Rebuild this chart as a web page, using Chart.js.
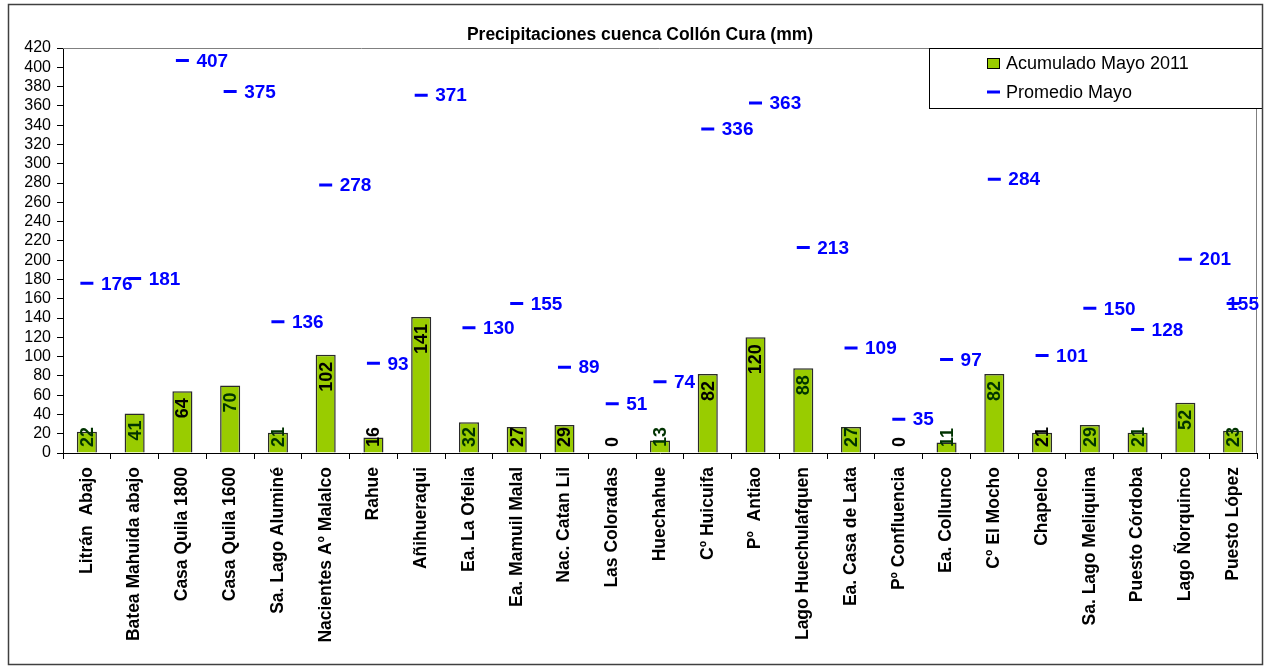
<!DOCTYPE html>
<html>
<head>
<meta charset="utf-8">
<title>Precipitaciones cuenca Collón Cura</title>
<script src="https://cdn.jsdelivr.net/npm/chart.js@4.4.1/dist/chart.umd.min.js"></script>
<style>
  html, body { margin: 0; padding: 0; background: #fff; }
  canvas { display: block; }
</style>
</head>
<body>
<canvas id="lluvia" width="1268" height="666"></canvas>
<script>
const titulo = "Precipitaciones cuenca Collón Cura (mm)";

const estaciones = [
  "Litrán  Abajo", "Batea Mahuida abajo", "Casa Quila 1800", "Casa Quila 1600",
  "Sa. Lago Aluminé", "Nacientes Aº Malalco", "Rahue", "Añihueraqui",
  "Ea. La Ofelia", "Ea. Mamuil Malal", "Nac. Catan Lil", "Las Coloradas",
  "Huechahue", "Cº Huicuifa", "Pº  Antiao", "Lago Huechulafquen",
  "Ea. Casa de Lata", "Pº Confluencia", "Ea. Collunco", "Cº El Mocho",
  "Chapelco", "Sa. Lago Meliquina", "Puesto Córdoba", "Lago Ñorquinco",
  "Puesto López"
];

// mm acumulados en mayo 2011
const acumulado = [22, 41, 64, 70, 21, 102, 16, 141, 32, 27, 29, 0, 13, 82, 120, 88, 27, 0, 11, 82, 21, 29, 21, 52, 23];

// promedio histórico de mayo
const promedio = [176, 181, 407, 375, 136, 278, 93, 371, 130, 155, 89, 51, 74, 336, 363, 213, 109, 35, 97, 284, 101, 150, 128, 201, 155];

const yTicks = { min: 0, max: 420, step: 20 };

// color del rótulo de cada barra (negro / verde oscuro)
const NEG = "#000000", VER = "#003300";
const colorValor = [VER, VER, NEG, VER, VER, NEG, NEG, NEG, VER, NEG, NEG, NEG, VER,
                    NEG, NEG, VER, VER, NEG, VER, VER, NEG, VER, VER, VER, VER];

const FUENTE = '"Liberation Sans", Arial, Helvetica, sans-serif';
Chart.defaults.font.family = FUENTE;
Chart.defaults.color = "#000";

const rotulos = {
  id: "rotulos",
  beforeDatasetsDraw(chart) {
    // borde gris del área de trazado (arriba y a la derecha)
    const { ctx, chartArea: a } = chart;
    ctx.save();
    ctx.strokeStyle = "#808080";
    ctx.lineWidth = 1;
    ctx.beginPath();
    ctx.moveTo(a.left, a.top + 0.5);
    ctx.lineTo(a.right - 0.5, a.top + 0.5);
    ctx.lineTo(a.right - 0.5, a.bottom);
    ctx.stroke();
    ctx.restore();
  },
  afterDatasetsDraw(chart) {
    const { ctx, chartArea: a } = chart;
    const barras = chart.getDatasetMeta(0).data;
    const marcas = chart.getDatasetMeta(1).data;
    ctx.save();

    // valores de las barras, en vertical
    ctx.font = "bold 18px " + FUENTE;
    ctx.textAlign = "left";
    ctx.textBaseline = "middle";
    barras.forEach((b, i) => {
      const txt = String(acumulado[i]);
      const w = ctx.measureText(txt).width;
      let base = b.y + 7 + w;
      if (base > a.bottom - 6) base = a.bottom - 6;
      ctx.save();
      ctx.translate(b.x + 1, base);
      ctx.rotate(-Math.PI / 2);
      ctx.fillStyle = colorValor[i];
      ctx.fillText(txt, 0, 0);
      ctx.restore();
    });

    // valores del promedio, a la derecha de cada guión
    ctx.font = "bold 19px " + FUENTE;
    ctx.fillStyle = "#0000FF";
    marcas.forEach((p, i) => {
      const txt = String(promedio[i]);
      const w = ctx.measureText(txt).width;
      const x = Math.min(p.x + 14, a.right + 2 - w);
      ctx.fillText(txt, x, p.y + 1);
    });
    ctx.restore();
  },
  afterDraw(chart) {
    const { ctx } = chart;
    const ds = chart.data.datasets;
    ctx.save();

    // leyenda
    ctx.fillStyle = "#fff";
    ctx.fillRect(929.5, 48.5, 333, 60);
    ctx.strokeStyle = "#000";
    ctx.lineWidth = 1;
    ctx.strokeRect(929.5, 48.5, 333, 60);

    ctx.fillStyle = ds[0].backgroundColor;
    ctx.fillRect(987.5, 58.5, 12, 10);
    ctx.strokeStyle = "#000";
    ctx.strokeRect(987.5, 58.5, 12, 10);

    ctx.strokeStyle = ds[1].pointBorderColor;
    ctx.lineWidth = 3;
    ctx.beginPath();
    ctx.moveTo(987, 92);
    ctx.lineTo(1000, 92);
    ctx.stroke();

    ctx.fillStyle = "#000";
    ctx.font = "18px " + FUENTE;
    ctx.textAlign = "left";
    ctx.textBaseline = "middle";
    ctx.fillText(ds[0].label, 1006, 64);
    ctx.fillText(ds[1].label, 1006, 93);

    // marco exterior
    ctx.strokeStyle = "#404040";
    ctx.lineWidth = 1.5;
    ctx.strokeRect(8.5, 4.5, 1254, 660);
    ctx.restore();
  }
};

new Chart(document.getElementById("lluvia"), {
  type: "bar",
  data: {
    labels: estaciones,
    datasets: [
      {
        type: "bar",
        label: "Acumulado Mayo 2011",
        data: acumulado,
        backgroundColor: "#99CC00",
        borderColor: "#2a2a2a",
        borderWidth: 1.5,
        barPercentage: 0.42,
        categoryPercentage: 1,
        order: 2
      },
      {
        type: "line",
        label: "Promedio Mayo",
        data: promedio,
        showLine: false,
        pointStyle: "line",
        pointRadius: 6.5,
        pointBorderWidth: 3,
        pointBorderColor: "#0000FF",
        borderColor: "#0000FF",
        order: 1
      }
    ]
  },
  options: {
    responsive: false,
    animation: false,
    events: [],
    layout: { padding: { left: 23, right: 11, top: 0, bottom: 0 } },
    plugins: {
      legend: { display: false },
      tooltip: { enabled: false },
      title: {
        display: true,
        text: titulo,
        color: "#000",
        font: { size: 17.5, weight: "bold" },
        padding: { top: 25, bottom: 2 }
      }
    },
    scales: {
      x: {
        grid: { offset: true, drawOnChartArea: false, tickLength: 6, tickColor: "#000" },
        border: { color: "#000" },
        ticks: {
          autoSkip: false,
          minRotation: 90,
          maxRotation: 90,
          padding: 8,
          color: "#000",
          font: { size: 17.5, weight: "bold" }
        },
        afterFit(s) { s.height = 213; }
      },
      y: {
        min: yTicks.min,
        max: yTicks.max,
        ticks: { stepSize: yTicks.step, autoSkip: false, padding: 6, color: "#000", font: { size: 16 } },
        grid: { drawOnChartArea: false, tickLength: 6, tickColor: "#000" },
        border: { color: "#000" },
        afterFit(s) { s.width = 40; }
      }
    }
  },
  plugins: [rotulos]
});
</script>
</body>
</html>
